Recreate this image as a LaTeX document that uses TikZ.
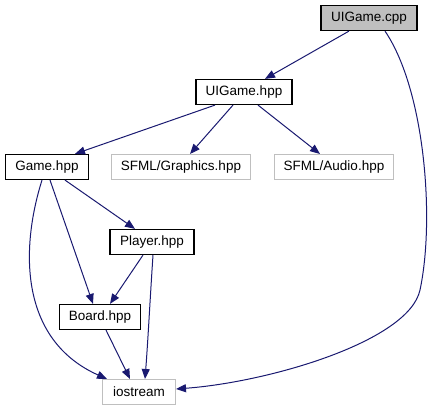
\documentclass[tikz,border=0pt]{standalone}
\usepackage{fontspec}
\setmainfont{Liberation Sans}
\usetikzlibrary{arrows.meta}
\definecolor{edgeblue}{HTML}{191970}
\definecolor{boxgray}{HTML}{BFBFBF}
\tikzset{
  every node/.style={font=\fontsize{13.5}{15}\selectfont},
  file/.style={draw=black, line width=1.2pt, minimum height=25pt, inner sep=0pt},
  rootfile/.style={file, fill=boxgray},
  sysfile/.style={file, draw=boxgray, line width=1pt},
  dep/.style={-{Triangle[length=10pt,width=8pt]}, line width=1pt, draw=edgeblue},
}
\begin{document}
\begin{tikzpicture}[x=1pt,y=-1pt]
\useasboundingbox (0,0) rectangle (437,411);
% files
\node[rootfile, minimum width=96pt] (uicpp) at (369,18) {UIGame.cpp};
\node[file, minimum width=96pt] (uihpp) at (244,92) {UIGame.hpp};
\node[file, minimum width=83pt] (game) at (47,167) {Game.hpp};
\node[sysfile, minimum width=139pt] (graphics) at (181,167) {SFML/Graphics.hpp};
\node[sysfile, minimum width=119pt] (audio) at (334,167) {SFML/Audio.hpp};
\node[file, minimum width=84pt] (player) at (152,242) {Player.hpp};
\node[file, minimum width=81pt] (board) at (100,317) {Board.hpp};
\node[sysfile, minimum width=73pt] (iostream) at (139,392) {iostream};
% includes
\draw[dep] ([xshift=-20]uicpp.south) -- ([xshift=21]uihpp.north);
\draw[dep] ([xshift=16]uicpp.south) .. controls (425,90) and (435,220) .. (420,290) .. controls (409,341) and (270,382) .. ([yshift=3]iostream.east);
\draw[dep] ([xshift=-29]uihpp.south) -- ([xshift=28]game.north);
\draw[dep] ([xshift=-11]uihpp.south) -- ([xshift=9]graphics.north);
\draw[dep] ([xshift=14]uihpp.south) -- ([xshift=-14]audio.north);
\draw[dep] ([xshift=18]game.south) -- ([xshift=-17]player.north);
\draw[dep] ([xshift=3]game.south) -- ([xshift=-7]board.north);
\draw[dep] ([xshift=-5]game.south) .. controls (20,250) and (20,340) .. ([xshift=5]iostream.north west);
\draw[dep] ([xshift=-9]player.south) -- ([xshift=10]board.north);
\draw[dep] ([xshift=1]player.south) .. controls (150,300) and (148,340) .. ([xshift=6]iostream.north);
\draw[dep] ([xshift=6]board.south) -- ([xshift=-9]iostream.north);
\end{tikzpicture}
\end{document}
